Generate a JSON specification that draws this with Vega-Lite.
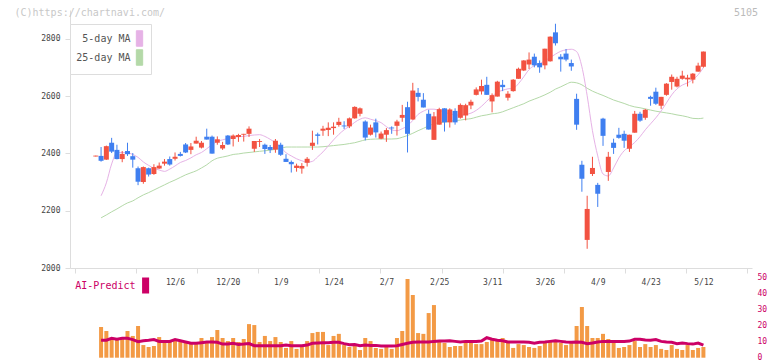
{
"$schema":"https://vega.github.io/schema/vega-lite/v6.json",
"width":682,"height":258,
"autosize":{"type":"none"},
"padding":{"left":70,"top":10,"right":20,"bottom":93},
"background":"white",
"config":{"view":{"stroke":null},"font":"DejaVu Sans Mono"},
"data":{"values":[
{"i":0,"o":2389,"h":2392,"l":2389,"c":2392},
{"i":1,"o":2391,"h":2422,"l":2371,"c":2374,"v":19.2,"m5":2252,"m25":2175,"a":10.9},
{"i":2,"o":2378,"h":2427,"l":2377,"c":2425,"v":16.7,"m5":2297,"m25":2185,"a":10.9},
{"i":3,"o":2437,"h":2454,"l":2401,"c":2406,"v":11.7,"m5":2363,"m25":2196,"a":12.1},
{"i":4,"o":2412,"h":2430,"l":2379,"c":2380,"v":11.1,"m5":2402,"m25":2206,"a":11.5},
{"i":5,"o":2380,"h":2408,"l":2369,"c":2398,"v":11.7,"m5":2403,"m25":2217,"a":12.1},
{"i":6,"o":2408,"h":2437,"l":2391,"c":2397,"v":16.7,"m5":2402,"m25":2227,"a":12.1},
{"i":7,"o":2390,"h":2401,"l":2350,"c":2378,"v":13.6,"m5":2396,"m25":2234,"a":11.3},
{"i":8,"o":2348,"h":2354,"l":2289,"c":2301,"v":19.8,"m5":2386,"m25":2245,"a":10.0},
{"i":9,"o":2300,"h":2354,"l":2294,"c":2352,"v":7.9,"m5":2370,"m25":2255,"a":10.6},
{"i":10,"o":2348,"h":2350,"l":2319,"c":2326,"v":6.7,"m5":2358,"m25":2263,"a":10.9},
{"i":11,"o":2328,"h":2362,"l":2325,"c":2352,"v":7.3,"m5":2348,"m25":2272,"a":11.3},
{"i":12,"o":2347,"h":2368,"l":2346,"c":2357,"v":12.9,"m5":2342,"m25":2281,"a":10.2},
{"i":13,"o":2364,"h":2380,"l":2357,"c":2371,"v":10.4,"m5":2337,"m25":2290,"a":10.2},
{"i":14,"o":2380,"h":2389,"l":2357,"c":2361,"v":9.8,"m5":2345,"m25":2299,"a":10.2},
{"i":15,"o":2381,"h":2403,"l":2375,"c":2388,"v":11.7,"m5":2356,"m25":2307,"a":11.3},
{"i":16,"o":2398,"h":2405,"l":2389,"c":2391,"v":9.8,"m5":2368,"m25":2316,"a":10.6},
{"i":17,"o":2431,"h":2436,"l":2401,"c":2403,"v":9.2,"m5":2375,"m25":2325,"a":9.8},
{"i":18,"o":2412,"h":2436,"l":2397,"c":2424,"v":9.2,"m5":2384,"m25":2332,"a":9.0},
{"i":19,"o":2434,"h":2458,"l":2434,"c":2444,"v":8.5,"m5":2395,"m25":2339,"a":9.0},
{"i":20,"o":2420,"h":2443,"l":2417,"c":2437,"v":12.3,"m5":2403,"m25":2349,"a":9.4},
{"i":21,"o":2458,"h":2486,"l":2448,"c":2448,"v":9.2,"m5":2416,"m25":2360,"a":9.8},
{"i":22,"o":2458,"h":2462,"l":2399,"c":2399,"v":12.9,"m5":2430,"m25":2374,"a":9.8},
{"i":23,"o":2437,"h":2459,"l":2430,"c":2449,"v":17.3,"m5":2442,"m25":2383,"a":9.6},
{"i":24,"o":2417,"h":2440,"l":2412,"c":2429,"v":12.3,"m5":2447,"m25":2387,"a":8.5},
{"i":25,"o":2462,"h":2464,"l":2429,"c":2431,"v":10.4,"m5":2452,"m25":2391,"a":8.5},
{"i":26,"o":2450,"h":2466,"l":2424,"c":2462,"v":12.3,"m5":2456,"m25":2396,"a":9.0},
{"i":27,"o":2457,"h":2468,"l":2440,"c":2464,"v":9.8,"m5":2458,"m25":2398,"a":8.3},
{"i":28,"o":2465,"h":2468,"l":2441,"c":2468,"v":11.7,"m5":2459,"m25":2401,"a":8.5},
{"i":29,"o":2468,"h":2494,"l":2457,"c":2486,"v":21.0,"m5":2462,"m25":2403,"a":8.8},
{"i":30,"o":2416,"h":2443,"l":2405,"c":2443,"v":20.4,"m5":2464,"m25":2405,"a":7.5},
{"i":31,"o":2440,"h":2450,"l":2422,"c":2443,"v":9.8,"m5":2465,"m25":2407,"a":7.5},
{"i":32,"o":2430,"h":2434,"l":2398,"c":2415,"v":13.6,"m5":2459,"m25":2409,"a":7.5},
{"i":33,"o":2422,"h":2429,"l":2401,"c":2412,"v":10.4,"m5":2449,"m25":2411,"a":7.5},
{"i":34,"o":2413,"h":2450,"l":2402,"c":2444,"v":12.9,"m5":2437,"m25":2414,"a":7.5},
{"i":35,"o":2430,"h":2437,"l":2391,"c":2395,"v":9.8,"m5":2421,"m25":2417,"a":7.5},
{"i":36,"o":2381,"h":2397,"l":2370,"c":2370,"v":6.1,"m5":2402,"m25":2422,"a":7.9},
{"i":37,"o":2370,"h":2375,"l":2333,"c":2362,"v":10.4,"m5":2391,"m25":2422,"a":7.5},
{"i":38,"o":2349,"h":2364,"l":2336,"c":2357,"v":5.5,"m5":2381,"m25":2422,"a":7.5},
{"i":39,"o":2347,"h":2366,"l":2329,"c":2356,"v":7.9,"m5":2374,"m25":2422,"a":7.5},
{"i":40,"o":2367,"h":2387,"l":2354,"c":2381,"v":10.4,"m5":2369,"m25":2422,"a":7.9},
{"i":41,"o":2426,"h":2479,"l":2412,"c":2437,"v":15.4,"m5":2372,"m25":2422,"a":9.0},
{"i":42,"o":2466,"h":2472,"l":2431,"c":2461,"v":16.1,"m5":2388,"m25":2422,"a":9.2},
{"i":43,"o":2479,"h":2496,"l":2461,"c":2486,"v":16.1,"m5":2405,"m25":2423,"a":9.4},
{"i":44,"o":2481,"h":2508,"l":2460,"c":2489,"v":7.9,"m5":2426,"m25":2425,"a":9.4},
{"i":45,"o":2488,"h":2508,"l":2465,"c":2493,"v":13.6,"m5":2447,"m25":2427,"a":9.6},
{"i":46,"o":2499,"h":2524,"l":2493,"c":2510,"v":14.9,"m5":2466,"m25":2429,"a":9.6},
{"i":47,"o":2497,"h":2512,"l":2485,"c":2494,"v":7.9,"m5":2482,"m25":2431,"a":8.8},
{"i":48,"o":2494,"h":2525,"l":2488,"c":2522,"v":6.7,"m5":2494,"m25":2434,"a":8.1},
{"i":49,"o":2522,"h":2564,"l":2521,"c":2562,"v":7.3,"m5":2508,"m25":2437,"a":8.3},
{"i":50,"o":2538,"h":2560,"l":2529,"c":2557,"v":4.8,"m5":2519,"m25":2442,"a":7.5},
{"i":51,"o":2511,"h":2515,"l":2445,"c":2455,"v":12.3,"m5":2524,"m25":2447,"a":7.9},
{"i":52,"o":2465,"h":2500,"l":2462,"c":2490,"v":10.4,"m5":2519,"m25":2449,"a":7.7},
{"i":53,"o":2508,"h":2521,"l":2455,"c":2473,"v":6.1,"m5":2514,"m25":2450,"a":7.7},
{"i":54,"o":2451,"h":2476,"l":2449,"c":2469,"v":5.5,"m5":2507,"m25":2450,"a":7.3},
{"i":55,"o":2465,"h":2488,"l":2440,"c":2481,"v":7.9,"m5":2493,"m25":2450,"a":7.3},
{"i":56,"o":2490,"h":2494,"l":2468,"c":2487,"v":5.5,"m5":2482,"m25":2450,"a":7.3},
{"i":57,"o":2496,"h":2517,"l":2462,"c":2511,"v":12.3,"m5":2479,"m25":2451,"a":7.5},
{"i":58,"o":2524,"h":2569,"l":2510,"c":2534,"v":16.7,"m5":2486,"m25":2456,"a":8.3},
{"i":59,"o":2561,"h":2580,"l":2403,"c":2468,"v":49.2,"m5":2496,"m25":2462,"a":9.0},
{"i":60,"o":2518,"h":2646,"l":2517,"c":2619,"v":39.2,"m5":2515,"m25":2470,"a":9.6},
{"i":61,"o":2611,"h":2628,"l":2581,"c":2597,"v":15.4,"m5":2536,"m25":2479,"a":9.8},
{"i":62,"o":2587,"h":2610,"l":2560,"c":2560,"v":14.9,"m5":2547,"m25":2487,"a":9.8},
{"i":63,"o":2538,"h":2552,"l":2483,"c":2483,"v":27.9,"m5":2554,"m25":2496,"a":9.8},
{"i":64,"o":2447,"h":2544,"l":2447,"c":2529,"v":32.9,"m5":2554,"m25":2503,"a":10.2},
{"i":65,"o":2500,"h":2559,"l":2500,"c":2554,"v":9.8,"m5":2550,"m25":2507,"a":10.4},
{"i":66,"o":2557,"h":2557,"l":2476,"c":2508,"v":9.2,"m5":2543,"m25":2509,"a":10.4},
{"i":67,"o":2508,"h":2557,"l":2490,"c":2553,"v":6.7,"m5":2538,"m25":2512,"a":10.6},
{"i":68,"o":2548,"h":2557,"l":2500,"c":2508,"v":7.3,"m5":2534,"m25":2514,"a":10.2},
{"i":69,"o":2524,"h":2574,"l":2521,"c":2569,"v":7.3,"m5":2533,"m25":2516,"a":9.8},
{"i":70,"o":2532,"h":2573,"l":2515,"c":2568,"v":9.2,"m5":2536,"m25":2519,"a":10.2},
{"i":71,"o":2567,"h":2587,"l":2554,"c":2580,"v":9.8,"m5":2540,"m25":2521,"a":10.2},
{"i":72,"o":2604,"h":2630,"l":2602,"c":2623,"v":8.5,"m5":2550,"m25":2526,"a":10.2},
{"i":73,"o":2616,"h":2657,"l":2605,"c":2635,"v":8.5,"m5":2564,"m25":2531,"a":10.4},
{"i":74,"o":2639,"h":2667,"l":2604,"c":2604,"v":9.8,"m5":2582,"m25":2534,"a":12.5},
{"i":75,"o":2581,"h":2609,"l":2543,"c":2603,"v":12.3,"m5":2599,"m25":2538,"a":11.5},
{"i":76,"o":2598,"h":2653,"l":2598,"c":2650,"v":11.7,"m5":2613,"m25":2540,"a":10.9},
{"i":77,"o":2639,"h":2656,"l":2617,"c":2631,"v":12.3,"m5":2620,"m25":2545,"a":10.6},
{"i":78,"o":2594,"h":2617,"l":2584,"c":2608,"v":9.8,"m5":2625,"m25":2552,"a":9.8},
{"i":79,"o":2617,"h":2659,"l":2615,"c":2657,"v":6.1,"m5":2627,"m25":2559,"a":9.8},
{"i":80,"o":2660,"h":2699,"l":2660,"c":2695,"v":8.5,"m5":2643,"m25":2566,"a":9.8},
{"i":81,"o":2689,"h":2725,"l":2687,"c":2724,"v":7.9,"m5":2667,"m25":2573,"a":9.8},
{"i":82,"o":2710,"h":2752,"l":2694,"c":2727,"v":6.7,"m5":2692,"m25":2582,"a":9.6},
{"i":83,"o":2737,"h":2748,"l":2700,"c":2707,"v":6.1,"m5":2706,"m25":2589,"a":9.0},
{"i":84,"o":2715,"h":2724,"l":2681,"c":2700,"v":7.3,"m5":2713,"m25":2596,"a":9.6},
{"i":85,"o":2707,"h":2765,"l":2693,"c":2765,"v":9.2,"m5":2723,"m25":2604,"a":9.8},
{"i":86,"o":2721,"h":2808,"l":2720,"c":2807,"v":9.8,"m5":2734,"m25":2613,"a":10.2},
{"i":87,"o":2822,"h":2852,"l":2776,"c":2784,"v":9.8,"m5":2746,"m25":2624,"a":10.6},
{"i":88,"o":2737,"h":2746,"l":2685,"c":2728,"v":9.2,"m5":2756,"m25":2632,"a":10.2},
{"i":89,"o":2748,"h":2764,"l":2721,"c":2727,"v":7.9,"m5":2761,"m25":2641,"a":9.8},
{"i":90,"o":2715,"h":2727,"l":2688,"c":2703,"v":9.2,"m5":2763,"m25":2648,"a":9.6},
{"i":91,"o":2590,"h":2608,"l":2482,"c":2500,"v":19.8,"m5":2755,"m25":2646,"a":9.8},
{"i":92,"o":2360,"h":2374,"l":2266,"c":2311,"v":31.7,"m5":2702,"m25":2639,"a":9.6},
{"i":93,"o":2098,"h":2252,"l":2067,"c":2206,"v":19.8,"m5":2601,"m25":2627,"a":8.8},
{"i":94,"o":2328,"h":2388,"l":2321,"c":2349,"v":12.3,"m5":2479,"m25":2617,"a":9.2},
{"i":95,"o":2290,"h":2297,"l":2213,"c":2259,"v":12.3,"m5":2391,"m25":2609,"a":9.8},
{"i":96,"o":2521,"h":2524,"l":2426,"c":2461,"v":14.9,"m5":2328,"m25":2602,"a":10.2},
{"i":97,"o":2335,"h":2405,"l":2304,"c":2388,"v":11.7,"m5":2321,"m25":2594,"a":10.2},
{"i":98,"o":2437,"h":2451,"l":2398,"c":2419,"v":9.8,"m5":2349,"m25":2586,"a":10.2},
{"i":99,"o":2465,"h":2489,"l":2451,"c":2454,"v":6.1,"m5":2384,"m25":2580,"a":10.2},
{"i":100,"o":2468,"h":2479,"l":2419,"c":2444,"v":6.7,"m5":2409,"m25":2574,"a":10.2},
{"i":101,"o":2416,"h":2465,"l":2405,"c":2465,"v":7.9,"m5":2423,"m25":2567,"a":10.4},
{"i":102,"o":2472,"h":2548,"l":2472,"c":2538,"v":10.4,"m5":2438,"m25":2562,"a":11.5},
{"i":103,"o":2538,"h":2545,"l":2510,"c":2514,"v":6.7,"m5":2458,"m25":2559,"a":11.5},
{"i":104,"o":2524,"h":2555,"l":2517,"c":2552,"v":8.5,"m5":2482,"m25":2555,"a":11.0},
{"i":105,"o":2597,"h":2601,"l":2566,"c":2590,"v":6.7,"m5":2503,"m25":2551,"a":10.9},
{"i":106,"o":2615,"h":2629,"l":2569,"c":2573,"v":7.9,"m5":2524,"m25":2547,"a":11.3},
{"i":107,"o":2566,"h":2597,"l":2555,"c":2597,"v":5.5,"m5":2548,"m25":2544,"a":10.2},
{"i":108,"o":2604,"h":2645,"l":2601,"c":2643,"v":4.8,"m5":2576,"m25":2541,"a":9.8},
{"i":109,"o":2649,"h":2675,"l":2622,"c":2667,"v":7.9,"m5":2604,"m25":2538,"a":9.6},
{"i":110,"o":2633,"h":2667,"l":2630,"c":2660,"v":5.5,"m5":2625,"m25":2534,"a":8.8},
{"i":111,"o":2660,"h":2688,"l":2657,"c":2671,"v":4.8,"m5":2638,"m25":2531,"a":9.2},
{"i":112,"o":2658,"h":2674,"l":2633,"c":2664,"v":7.9,"m5":2646,"m25":2527,"a":8.8},
{"i":113,"o":2657,"h":2680,"l":2644,"c":2678,"v":4.8,"m5":2657,"m25":2522,"a":8.5},
{"i":114,"o":2685,"h":2716,"l":2685,"c":2706,"v":6.1,"m5":2674,"m25":2521,"a":9.2},
{"i":115,"o":2702,"h":2755,"l":2699,"c":2755,"v":6.7,"m5":2699,"m25":2523,"a":7.9}
]},
"layer":[
{
"encoding":{"x":{"field":"i","type":"quantitative","scale":{"domain":[-3.935,123.25],"nice":false,"zero":false},
 "axis":{"orient":"bottom","values":[-3.935,7.627,19.188,30.75,42.311,53.873,65.434,76.996,88.557,100.118,111.68,123.24],"labels":false,"tickSize":5,"tickColor":"#dddddd","domainColor":"#dddddd","title":null,"grid":false}}},
"layer":[
{"mark":{"type":"line","strokeWidth":1,"interpolate":"monotone"},
 "encoding":{"y":{"field":"m25","type":"quantitative","scale":{"domain":[2000,2900],"nice":false,"zero":false},
   "axis":{"values":[2000,2200,2400,2600,2800],"format":"d","title":"(C)https://chartnavi.com/","titleX":-56,"titleY":2,"titleAngle":0,"titleAlign":"left","titleBaseline":"middle","titleFont":"DejaVu Sans Mono","titleFontSize":10,"titleFontWeight":"normal","titleColor":"#c8c8c8","labelFont":"DejaVu Sans Mono","labelFontSize":8,"labelColor":"#444444","tickColor":"#dddddd","tickSize":5,"labelPadding":5,"domainColor":"#dddddd","grid":false}},
  "color":{"datum":"25-day MA","scale":{"domain":["5-day MA","25-day MA"],"range":["#e6b2e6","#b4d9a8"]},
   "legend":{"title":null,"orient":"none","legendX":0,"legendY":14,"padding":6,"fillColor":"#ffffff","strokeColor":"#dddddd","labelFont":"DejaVu Sans Mono","labelFontSize":10,"labelColor":"#555555","labelAlign":"right","labelOffset":-17.5,"symbolOffset":55,"rowPadding":-6,"symbolType":"M-0.41,-1H0.41V1H-0.41Z","symbolSize":240,"symbolStrokeWidth":1,"symbolStrokeColor":"#666666",
    "encode":{"symbols":{"update":{"fill":{"scale":"color","field":"value"},"stroke":{"value":"#666666"},"strokeWidth":{"value":1},"opacity":{"value":1}}},"labels":{"update":{"align":{"value":"right"}}}}}}}},
{"mark":{"type":"line","strokeWidth":1,"interpolate":"monotone"},
 "encoding":{"y":{"field":"m5","type":"quantitative","scale":{"domain":[2000,2900],"nice":false,"zero":false}},
  "color":{"datum":"5-day MA"}}},
{"mark":{"type":"rule","strokeWidth":1},
 "encoding":{"y":{"field":"l","type":"quantitative","scale":{"domain":[2000,2900],"nice":false,"zero":false}},"y2":{"field":"h"},
  "stroke":{"condition":{"test":"datum.c >= datum.o","value":"#f25241"},"value":"#3f7ff0"}}},
{"mark":{"type":"bar","size":5},
 "encoding":{"y":{"field":"o","type":"quantitative","scale":{"domain":[2000,2900],"nice":false,"zero":false}},"y2":{"field":"c"},
  "fill":{"condition":{"test":"datum.c >= datum.o","value":"#f25241"},"value":"#3f7ff0"}}}
]
},
{
"encoding":{"x":{"field":"i","type":"quantitative","scale":{"domain":[-3.935,123.25],"nice":false,"zero":false},
 "axis":{"orient":"bottom","values":[15,25,35,45,55,65,75,85,95,105,115],"labelExpr":"['12/6','12/20','1/9','1/24','2/7','2/25','3/11','3/26','4/9','4/23','5/12'][round((datum.value-15)/10)]","ticks":false,"domain":false,"labelPadding":10,"labelFont":"DejaVu Sans Mono","labelFontSize":8,"labelColor":"#444444","labelFlush":false,"labelOverlap":false,"title":null,"grid":false}}},
"layer":[
{"mark":{"type":"bar","size":4,"color":"#f39a45"},
 "encoding":{"y":{"field":"v","type":"quantitative","scale":{"domain":[0,50],"range":[347.7,267.7],"nice":false,"zero":true},
   "axis":{"orient":"right","values":[0,10,20,30,40,50],"domain":false,"ticks":false,"labelPadding":5,"labelFont":"DejaVu Sans Mono","labelFontSize":8,"labelColor":"#cc0066","labelFlush":false,"labelOverlap":false,"grid":false,"title":"5105","titleX":5.5,"titleY":2,"titleAngle":0,"titleAlign":"right","titleBaseline":"middle","titleFont":"DejaVu Sans Mono","titleFontSize":10,"titleFontWeight":"normal","titleColor":"#bbbbbb"}}}},
{"mark":{"type":"line","strokeWidth":3},
 "encoding":{"y":{"field":"a","type":"quantitative","scale":{"domain":[0,50],"range":[347.7,267.7],"nice":false,"zero":true}},
  "stroke":{"datum":"AI-Predict","scale":{"range":["#cc0066"]},
   "legend":{"title":null,"orient":"none","legendX":5,"legendY":267.5,"padding":0,"labelFont":"DejaVu Sans Mono","labelFontSize":10,"labelColor":"#cc0066","labelAlign":"right","labelOffset":-18.1,"symbolOffset":62.6,"symbolType":"M-0.44,-1H0.44V1H-0.44Z","symbolSize":256,"symbolStrokeWidth":0,
    "encode":{"symbols":{"update":{"fill":{"value":"#cc0066"},"strokeWidth":{"value":0},"opacity":{"value":1}}},"labels":{"update":{"align":{"value":"right"}}}}}}}}
]
}
],
"resolve":{"scale":{"y":"independent"},"axis":{"x":"independent","y":"independent"}}
}
